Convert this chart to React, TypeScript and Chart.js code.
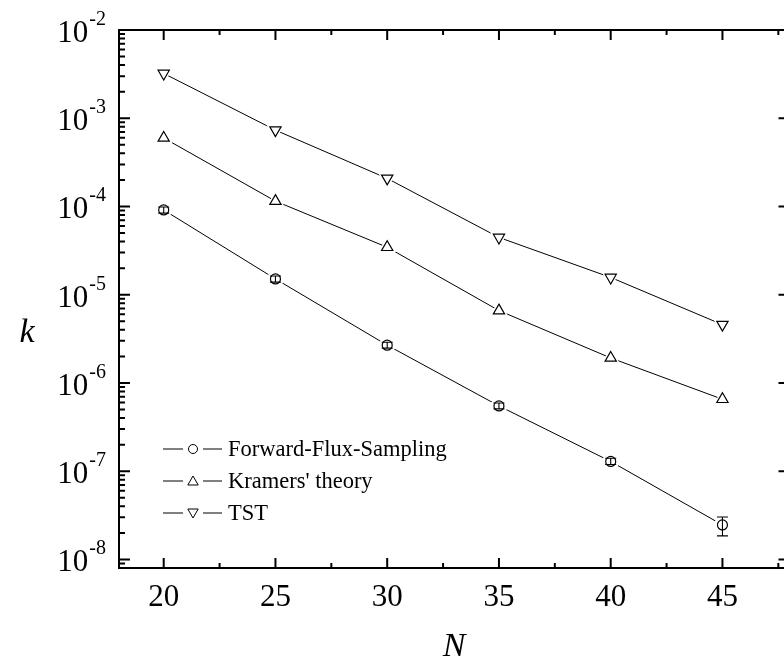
import React, { useEffect, useRef } from "react";
import { Chart, registerables } from "chart.js";

Chart.register(...registerables);

// ---- data ----
const categories = [20, 25, 30, 35, 40, 45];
const ffsValues = [9.13e-5, 1.51e-5, 2.68e-6, 5.49e-7, 1.29e-7, 2.46e-8];
const ffsErrLow = [8.4e-5, 1.39e-5, 2.48e-6, 5.08e-7, 1.19e-7, 1.85e-8];
const ffsErrHigh = [9.85e-5, 1.63e-5, 2.89e-6, 5.93e-7, 1.4e-7, 3.03e-8];
const kramersValues = [5.98e-4, 1.15e-4, 3.45e-5, 6.61e-6, 1.92e-6, 6.54e-7];
const tstValues = [3.22e-3, 7.33e-4, 2.08e-4, 4.46e-5, 1.57e-5, 4.58e-6];
const xTickLabels = [20, 25, 30, 35, 40, 45];
const xMinorTicks = [22.5, 27.5, 32.5, 37.5, 42.5, 47.5];
const yExponents = [-8, -7, -6, -5, -4, -3, -2];
const legendLabels = ["Forward-Flux-Sampling", "Kramers' theory", "TST"];
const xTitle = "N";
const yTitle = "k";

const FONT = "'Liberation Serif', 'DejaVu Serif', serif";

type Series = { values: number[]; style: string; rot: number; r: number };
const series: Series[] = [
  { values: ffsValues, style: "circle", rot: 0, r: 5 },
  { values: kramersValues, style: "triangle", rot: 0, r: 6.5 },
  { values: tstValues, style: "triangle", rot: 180, r: 6.5 },
];

function toPoints(vals: number[]) {
  return categories.map((x, i) => ({ x, y: vals[i] }));
}

function drawSymbol(ctx: CanvasRenderingContext2D, style: string, rot: number, x: number, y: number, r: number) {
  ctx.beginPath();
  if (style === "circle") {
    ctx.arc(x, y, r, 0, Math.PI * 2);
  } else {
    let rad = (rot * Math.PI) / 180;
    ctx.moveTo(x + Math.sin(rad) * r, y - Math.cos(rad) * r);
    rad += (2 * Math.PI) / 3;
    ctx.lineTo(x + Math.sin(rad) * r, y - Math.cos(rad) * r);
    rad += (2 * Math.PI) / 3;
    ctx.lineTo(x + Math.sin(rad) * r, y - Math.cos(rad) * r);
    ctx.closePath();
  }
  ctx.fillStyle = "#fff";
  ctx.fill();
  ctx.stroke();
}

const decorPlugin = {
  id: "decor",
  afterDatasetsDraw(chart: any) {
    const ctx: CanvasRenderingContext2D = chart.ctx;
    const xs = chart.scales.x;
    const ys = chart.scales.y;
    ctx.save();
    ctx.strokeStyle = "#000";
    ctx.lineWidth = 1.1;
    categories.forEach((c, i) => {
      const px = xs.getPixelForValue(c);
      const y1 = ys.getPixelForValue(ffsErrHigh[i]);
      const y2 = ys.getPixelForValue(ffsErrLow[i]);
      ctx.beginPath();
      ctx.moveTo(px, y1);
      ctx.lineTo(px, y2);
      ctx.moveTo(px - 5.5, y1);
      ctx.lineTo(px + 5.5, y1);
      ctx.moveTo(px - 5.5, y2);
      ctx.lineTo(px + 5.5, y2);
      ctx.stroke();
    });
    ctx.restore();
  },
  afterDraw(chart: any) {
    const ctx: CanvasRenderingContext2D = chart.ctx;
    const { left, right, top, bottom } = chart.chartArea;
    const xs = chart.scales.x;
    const ys = chart.scales.y;
    ctx.save();
    ctx.strokeStyle = "#000";
    ctx.fillStyle = "#000";
    ctx.lineWidth = 2;
    ctx.strokeRect(left, top, right - left, bottom - top);

    // x ticks
    ctx.beginPath();
    xTickLabels.forEach((v) => {
      const px = xs.getPixelForValue(v);
      ctx.moveTo(px, bottom);
      ctx.lineTo(px, bottom - 10);
      ctx.moveTo(px, top);
      ctx.lineTo(px, top + 10);
    });
    xMinorTicks.forEach((v) => {
      const px = xs.getPixelForValue(v);
      ctx.moveTo(px, bottom);
      ctx.lineTo(px, bottom - 5);
      ctx.moveTo(px, top);
      ctx.lineTo(px, top + 5);
    });
    // y ticks
    const yMin = ys.min;
    const yMax = ys.max;
    for (let e = -9; e <= -2; e++) {
      for (let m = 1; m <= 9; m++) {
        const v = m * Math.pow(10, e);
        if (v < yMin * 0.999 || v > yMax * 1.001) continue;
        const py = ys.getPixelForValue(v);
        const len = m === 1 ? 11 : 6;
        ctx.moveTo(left, py);
        ctx.lineTo(left + len, py);
        if (m === 1) {
          ctx.moveTo(right, py);
          ctx.lineTo(right - len, py);
        }
      }
    }
    ctx.stroke();

    // x tick labels
    ctx.font = `31px ${FONT}`;
    ctx.textAlign = "center";
    ctx.textBaseline = "alphabetic";
    xTickLabels.forEach((v) => {
      ctx.fillText(String(v), xs.getPixelForValue(v), bottom + 38);
    });

    // y tick labels 10^n
    yExponents.forEach((e) => {
      const py = ys.getPixelForValue(Math.pow(10, e));
      const sup = String(e);
      ctx.font = `20px ${FONT}`;
      ctx.textAlign = "right";
      const w = ctx.measureText(sup).width;
      ctx.fillText(sup, left - 13, py - 5);
      ctx.font = `31px ${FONT}`;
      ctx.fillText("10", left - 14 - w, py + 12);
    });

    // axis titles
    ctx.font = `italic 34px ${FONT}`;
    ctx.textAlign = "center";
    ctx.fillText(xTitle, 454, 656);
    ctx.fillText(yTitle, 27, 342);

    // legend
    const rows = [449, 481, 513];
    ctx.lineWidth = 1;
    ctx.font = `22.5px ${FONT}`;
    ctx.textAlign = "left";
    legendLabels.forEach((lab, i) => {
      const cy = rows[i];
      ctx.beginPath();
      ctx.moveTo(163, cy);
      ctx.lineTo(183, cy);
      ctx.moveTo(203, cy);
      ctx.lineTo(222, cy);
      ctx.stroke();
      const s = series[i];
      drawSymbol(ctx, s.style, s.rot, 193, cy + (s.style === "triangle" ? (s.rot ? -1 : 1) : 0), s.style === "circle" ? 4.5 : 6);
      ctx.fillStyle = "#000";
      ctx.fillText(lab, 228, cy + 7);
    });
    ctx.restore();
  },
};

export default function App() {
  const ref = useRef<HTMLCanvasElement | null>(null);
  useEffect(() => {
    document.body.style.margin = "0";
    document.body.style.overflow = "hidden";
    const canvas = ref.current;
    if (!canvas) return;
    const datasets: any[] = [];
    series.forEach((s, i) => {
      datasets.push({
        label: legendLabels[i],
        data: toPoints(s.values),
        showLine: true,
        borderColor: "#000",
        borderWidth: 1,
        pointRadius: 0,
        order: 3,
      });
      datasets.push({
        label: legendLabels[i] + " gap",
        data: toPoints(s.values),
        showLine: false,
        pointStyle: s.style,
        pointRotation: s.rot,
        pointRadius: s.r + 3,
        pointBackgroundColor: "#fff",
        pointBorderColor: "#fff",
        pointBorderWidth: 1,
        order: 2,
      });
      datasets.push({
        label: legendLabels[i] + " marker",
        data: toPoints(s.values),
        showLine: false,
        pointStyle: s.style,
        pointRotation: s.rot,
        pointRadius: s.r,
        pointBackgroundColor: "#fff",
        pointBorderColor: "#000",
        pointBorderWidth: 1.2,
        order: 1,
      });
    });
    const chart = new Chart(canvas, {
      type: "scatter",
      data: { datasets },
      options: {
        responsive: false,
        animation: false,
        devicePixelRatio: 1,
        layout: { padding: { left: 119, top: 30, right: 7, bottom: 98 } },
        plugins: { legend: { display: false }, tooltip: { enabled: false } },
        scales: {
          x: { type: "linear", min: 18, max: 48, display: false },
          y: { type: "logarithmic", min: 8e-9, max: 1e-2, display: false },
        },
      },
      plugins: [decorPlugin],
    });
    return () => chart.destroy();
  }, []);
  return (
    <div style={{ width: 784, height: 666, overflow: "hidden", background: "#fff" }}>
      <canvas ref={ref} width={800} height={666} style={{ display: "block" }} />
    </div>
  );
}
